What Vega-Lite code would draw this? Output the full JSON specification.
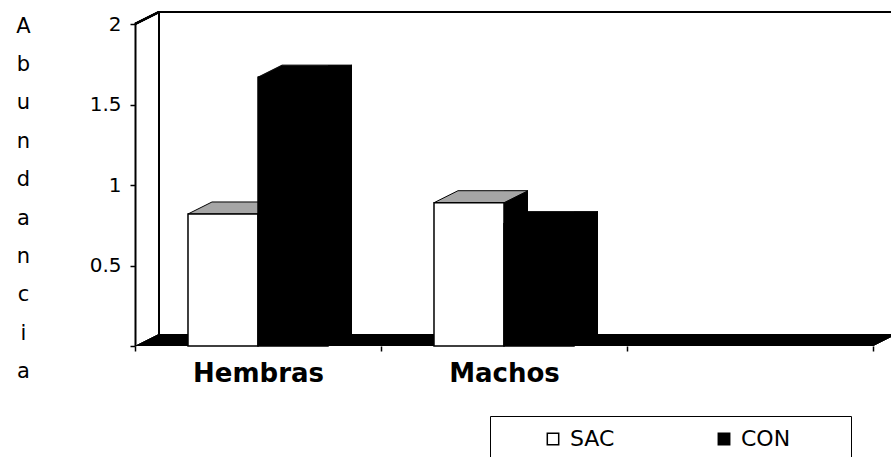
{
  "$schema": "https://vega.github.io/schema/vega-lite/v6.json",
  "width": 738,
  "height": 322,
  "autosize": "none",
  "padding": {"left": 135, "top": 24, "right": 18, "bottom": 111},
  "background": "white",
  "config": {"view": {"stroke": null}, "font": "DejaVu Sans"},
  "data": {
    "values": [
      {"grupo": "Hembras", "serie": "SAC", "valor": 0.82},
      {"grupo": "Hembras", "serie": "CON", "valor": 1.67},
      {"grupo": "Machos", "serie": "SAC", "valor": 0.89},
      {"grupo": "Machos", "serie": "CON", "valor": 0.76}
    ]
  },
  "layer": [
    {
      "mark": {"type": "rule", "color": "black", "strokeWidth": 2, "xOffset": 24, "x2Offset": 24, "yOffset": -12},
      "encoding": {
        "x": {"datum": "Hembras", "type": "nominal", "bandPosition": 0},
        "x2": {"datum": "_", "bandPosition": 1},
        "y": {"datum": 2, "type": "quantitative"}
      }
    },
    {
      "mark": {"type": "rule", "color": "black", "strokeWidth": 2, "xOffset": 24, "yOffset": -12, "y2Offset": -12},
      "encoding": {
        "x": {"datum": "Hembras", "type": "nominal", "bandPosition": 0},
        "y": {"datum": 0, "type": "quantitative"},
        "y2": {"datum": 2}
      }
    },
    {
      "mark": {"type": "rule", "color": "black", "strokeWidth": 2, "x2Offset": 24, "y2Offset": -12},
      "encoding": {
        "x": {"datum": "Hembras", "type": "nominal", "bandPosition": 0},
        "x2": {"datum": "Hembras", "bandPosition": 0},
        "y": {"datum": 2, "type": "quantitative"},
        "y2": {"datum": 2}
      }
    },
    {
      "mark": {"type": "point", "shape": "M-369,0 L369,0 L393,-12 L-345,-12 Z", "size": 4, "filled": true, "color": "black", "opacity": 1, "strokeWidth": 0},
      "encoding": {
        "x": {"datum": "Machos", "type": "nominal"},
        "y": {"datum": 0, "type": "quantitative"}
      }
    },
    {
      "mark": {"type": "point", "shape": "M35,-12 L59,-12 L59,400 L35,400 Z", "size": 4, "filled": true, "color": "black", "opacity": 1, "strokeWidth": 0, "clip": true},
      "encoding": {
        "x": {"field": "grupo", "type": "nominal"},
        "xOffset": {"field": "serie", "type": "nominal"},
        "y": {"field": "valor", "type": "quantitative"}
      }
    },
    {
      "mark": {"type": "point", "shape": "M-35,0 L35,0 L59,-12 L-11,-12 Z", "size": 4, "filled": true, "opacity": 1, "stroke": "black", "strokeWidth": 1},
      "encoding": {
        "x": {"field": "grupo", "type": "nominal"},
        "xOffset": {"field": "serie", "type": "nominal"},
        "y": {"field": "valor", "type": "quantitative"},
        "fill": {"condition": {"test": "datum.serie == 'SAC'", "value": "#a6a6a6"}, "value": "black"}
      }
    },
    {
      "mark": {"type": "bar", "stroke": "black", "strokeWidth": 1.5},
      "encoding": {
        "x": {
          "field": "grupo",
          "type": "nominal",
          "scale": {"domain": ["Hembras", "Machos", "_"], "paddingInner": 0, "paddingOuter": 0},
          "axis": {
            "title": null,
            "domain": false,
            "ticks": true,
            "tickBand": "extent",
            "tickSize": 5,
            "tickWidth": 1.5,
            "tickColor": "black",
            "labelAngle": 0,
            "labelAlign": "center",
            "labelFont": "DejaVu Sans",
            "labelFontWeight": "bold",
            "labelFontSize": 26,
            "labelColor": "black",
            "labelPadding": 22,
            "labelExpr": "datum.value == '_' ? '' : datum.label"
          }
        },
        "xOffset": {
          "field": "serie",
          "type": "nominal",
          "scale": {"domain": ["SAC", "CON"], "paddingInner": 0, "paddingOuter": 0.757}
        },
        "y": {
          "field": "valor",
          "type": "quantitative",
          "scale": {"domain": [0, 2], "nice": false},
          "axis": {
            "values": [0, 0.5, 1, 1.5, 2],
            "format": "~g",
            "labelExpr": "datum.value == 0 ? '' : datum.label",
            "grid": false,
            "domain": true,
            "domainColor": "black",
            "domainWidth": 2,
            "tickColor": "black",
            "tickSize": 5,
            "tickWidth": 1.5,
            "labelFont": "DejaVu Sans",
            "labelFontSize": 20,
            "labelColor": "black",
            "labelPadding": 9,
            "title": ["A", "b", "u", "n", "d", "a", "n", "c", "i", "a"],
            "titleAngle": 0,
            "titleFont": "DejaVu Sans",
            "titleFontSize": 21,
            "titleFontWeight": "normal",
            "titleColor": "black",
            "titleLineHeight": 38.4,
            "titleX": -112,
            "titleY": -9,
            "titleAlign": "center",
            "titleBaseline": "top"
          }
        },
        "color": {
          "field": "serie",
          "type": "nominal",
          "scale": {"domain": ["SAC", "CON"], "range": ["white", "black"]},
          "legend": {
            "title": null,
            "orient": "none",
            "legendX": 355,
            "legendY": 392,
            "direction": "horizontal",
            "strokeColor": "black",
            "padding": 12,
            "symbolType": "square",
            "symbolSize": 130,
            "symbolStrokeColor": "black",
            "symbolStrokeWidth": 1.5,
            "symbolOffset": 40,
            "labelFont": "DejaVu Sans",
            "labelFontSize": 22,
            "labelColor": "black",
            "labelOffset": 6,
            "columnPadding": 58,
            "labelExpr": "datum.label == 'CON' ? 'CON\u2800\u2800\u2800' : datum.label"
          }
        }
      }
    }
  ]
}
